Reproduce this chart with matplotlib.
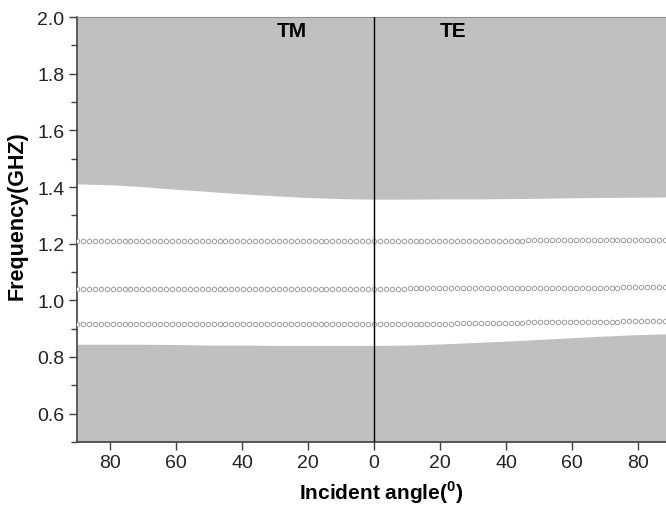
import numpy as np
import matplotlib
matplotlib.use("Agg")
import matplotlib.pyplot as plt
from matplotlib.ticker import MultipleLocator, FuncFormatter

plt.rcParams['font.family'] = ['Liberation Sans', 'DejaVu Sans']
plt.rcParams['mathtext.fontset'] = 'custom'
plt.rcParams['mathtext.bf'] = 'Liberation Sans:bold'
plt.rcParams['mathtext.rm'] = 'Liberation Sans'

# band edges (TM on negative side, TE on positive side)
edge_angles = [-90, -80, -70, -60, -50, -40, -30, -20, -10, 0,
               10, 20, 30, 40, 50, 60, 70, 80, 90]
upper_edge = [1.411, 1.408, 1.401, 1.392, 1.384, 1.376, 1.369, 1.363, 1.359, 1.357,
              1.357, 1.358, 1.358, 1.359, 1.360, 1.362, 1.363, 1.364, 1.365]
lower_edge = [0.845, 0.845, 0.845, 0.844, 0.842, 0.842, 0.841, 0.841, 0.841, 0.841,
              0.842, 0.846, 0.851, 0.856, 0.862, 0.868, 0.874, 0.879, 0.882]

# defect modes (circle markers)
mode_angles = np.linspace(-90, 90, 101)
mode1 = [1.211] * 76 + [1.212] * 15 + [1.213] * 10
mode2 = [1.041] * 56 + [1.042] * 9 + [1.043] * 9 + [1.044] * 9 + [1.045] * 9 + [1.046] * 5 + [1.047] * 4
mode3 = ([0.915] * 52 + [0.916] * 4 + [0.917] * 4 + [0.918] * 4 + [0.919] * 4 + [0.920] * 4
         + [0.921] * 4 + [0.922] * 4 + [0.923] * 4 + [0.924] * 4 + [0.925] * 4 + [0.926] * 4
         + [0.927] * 5)

x_ticks = [-80, -60, -40, -20, 0, 20, 40, 60, 80]
y_ticks = [0.6, 0.8, 1.0, 1.2, 1.4, 1.6, 1.8, 2.0]

fig = plt.figure(figsize=(6.66, 5.06), dpi=100)
ax = fig.add_axes([77 / 666, 63 / 506, 1 - 77 / 666, 425 / 506])

gray = '#c0c0c0'
ax.fill_between(edge_angles, upper_edge, 2.0, color=gray, lw=0, zorder=1)
ax.fill_between(edge_angles, 0.5, lower_edge, color=gray, lw=0, zorder=1)

for m in (mode1, mode2, mode3):
    ax.plot(mode_angles, m, ls='none', marker='o', ms=3.2, mfc='white',
            mec='#a0a0a0', mew=0.75, zorder=3)

ax.axvline(0, color='black', lw=1.0, zorder=4)

ax.text(-25, 1.952, 'TM', fontsize=15, fontweight='bold', ha='center', va='center', zorder=5)
ax.text(24, 1.952, 'TE', fontsize=15, fontweight='bold', ha='center', va='center', zorder=5)

ax.set_xlim(-90, 88.5)
ax.set_ylim(0.5, 2.0)
ax.set_xticks(x_ticks)
ax.xaxis.set_major_formatter(FuncFormatter(lambda v, p: f"{abs(int(round(v)))}"))
ax.set_yticks(y_ticks)
ax.yaxis.set_minor_locator(MultipleLocator(0.1))
ax.yaxis.set_major_formatter(FuncFormatter(lambda v, p: f"{v:.1f}"))

ax.tick_params(axis='both', which='major', direction='out', length=6, width=1,
               color='#404040', labelsize=14, pad=3, labelcolor='#222222')
ax.tick_params(axis='y', which='minor', direction='out', length=4, width=1, color='#404040')

for s in ('left', 'bottom'):
    ax.spines[s].set_color('#404040')
    ax.spines[s].set_linewidth(1.2)
ax.spines['top'].set_color('#909090')
ax.spines['top'].set_linewidth(0.8)
ax.spines['right'].set_visible(False)

ax.set_xlabel(r'Incident angle($^{\mathbf{0}}$)', fontsize=15, fontweight='bold')
ax.set_ylabel('Frequency(GHZ)', fontsize=15.5, fontweight='bold')
ax.yaxis.set_label_coords(-0.083, 0.536)
ax.xaxis.set_label_coords(0.516, -0.085)

fig.savefig('out.png', dpi=100)
